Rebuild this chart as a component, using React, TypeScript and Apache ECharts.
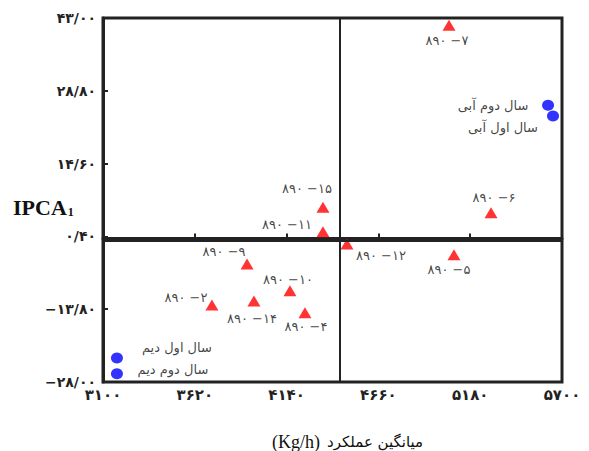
import React, { useEffect, useRef } from "react";
import * as echarts from "echarts";

// ---- data ----
const redNames = ["7", "6", "15", "11", "12", "5", "9", "10", "2", "14", "4"];
const redX = [5060, 5298, 4346, 4346, 4482, 5088, 3916, 4159, 3717, 3955, 4244];
const redY = [41.6, 5.0, 6.1, 1.3, -1.1, -3.2, -5.0, -10.2, -13.0, -12.2, -14.5];

const blueNames = ["سال دوم آبی", "سال اول آبی", "سال اول دیم", "سال دوم دیم"];
const blueX = [5621, 5649, 3179, 3179];
const blueY = [26.0, 23.9, -23.3, -26.4];

const meanX = 4440;
const meanY = -0.4;

const xTickLabels = ["۳۱۰۰", "۳۶۲۰", "۴۱۴۰", "۴۶۶۰", "۵۱۸۰", "۵۷۰۰"];
const yTickLabels = ["−۲۸/۰۰", "−۱۳/۸۰", "۰/۴۰", "۱۴/۶۰", "۲۸/۸۰", "۴۳/۰۰"];

const xUnit = "Kg/h";
const xTitle = "میانگین عملکرد";

// label placement (offset of label centre from symbol centre, px)
const redOffsets: Record<string, [number, number]> = {
  "7": [-2, 15],
  "6": [3, -15],
  "15": [-16, -19],
  "11": [-36, -7],
  "12": [34, 11],
  "5": [-5, 15],
  "9": [-23, -13],
  "10": [-2, -11],
  "2": [-26, -8],
  "14": [-2, 18],
  "4": [1, 14],
};
const blueOffsets: [number, number][] = [
  [-55, 0],
  [-50, 12],
  [60, -10],
  [56, -4],
];

const faDigits = "۰۱۲۳۴۵۶۷۸۹";
const toFa = (s: string) => s.replace(/[0-9]/g, (d) => faDigits[Number(d)]);

const labelFont = "'DejaVu Sans', sans-serif";

export default function App() {
  const ref = useRef<HTMLDivElement>(null);
  useEffect(() => {
    document.body.style.margin = "0";
    if (!ref.current) return;
    const chart = echarts.init(ref.current, undefined, { renderer: "svg" });

    const redData = redNames.map((n, i) => ({
      value: [redX[i], redY[i]],
      label: {
        show: true,
        position: "inside",
        offset: redOffsets[n],
        formatter: toFa("890 −" + n),
      },
    }));
    const blueData = blueNames.map((n, i) => ({
      value: [blueX[i], blueY[i]],
      label: {
        show: true,
        position: "inside",
        offset: blueOffsets[i],
        formatter: n,
      },
    }));

    chart.setOption({
      animation: false,
      backgroundColor: "#ffffff",
      grid: {
        left: 103,
        top: 18,
        right: 27,
        bottom: 69,
        show: true,
        borderColor: "#222",
        borderWidth: 3,
      },
      xAxis: {
        type: "value",
        min: 3100,
        max: 5700,
        interval: 520,
        axisLine: { show: true, lineStyle: { color: "#222", width: 3 } },
        axisTick: { show: true, inside: true, length: 5, lineStyle: { color: "#222", width: 2 } },
        splitLine: { show: false },
        axisLabel: {
          margin: 5,
          color: "#222",
          fontSize: 15,
          fontWeight: "bold",
          fontFamily: labelFont,
          formatter: (v: number) => xTickLabels[Math.round((v - 3100) / 520)] ?? "",
        },
      },
      yAxis: {
        type: "value",
        min: -28,
        max: 43,
        interval: 14.2,
        axisLine: { show: true, lineStyle: { color: "#222", width: 3 } },
        axisTick: { show: true, inside: true, length: 5, lineStyle: { color: "#222", width: 2 } },
        splitLine: { show: false },
        axisLabel: {
          margin: 7,
          color: "#222",
          fontSize: 14,
          fontWeight: "bold",
          fontFamily: labelFont,
          formatter: (v: number) => yTickLabels[Math.round((v + 28) / 14.2)] ?? "",
        },
      },
      series: [
        {
          type: "scatter",
          symbol: "triangle",
          symbolSize: [13, 11],
          itemStyle: { color: "#ff0000" },
          label: { color: "#111", fontSize: 13, fontFamily: labelFont },
          data: redData,
          z: 3,
          markLine: {
            silent: true,
            symbol: ["none", "none"],
            label: { show: false },
            lineStyle: { color: "#222", width: 2, type: "solid" },
            data: [{ xAxis: meanX }, { yAxis: meanY }],
          },
        },
        {
          type: "scatter",
          symbol: "circle",
          symbolSize: [12, 11],
          itemStyle: { color: "#0000ff" },
          label: { color: "#111", fontSize: 13, fontFamily: labelFont },
          data: blueData,
          z: 3,
        },
      ],
      graphic: [
        {
          type: "text",
          left: 13,
          top: 196,
          style: {
            text: "{a|IPCA}{b|1}",
            rich: {
              a: {
                fontFamily: "'Liberation Serif', serif",
                fontWeight: "bold",
                fontSize: 22,
                fill: "#111",
              },
              b: {
                fontFamily: "'Liberation Serif', serif",
                fontWeight: "bold",
                fontSize: 12,
                fill: "#111",
                padding: [10, 0, 0, 1],
              },
            },
          },
        },
        {
          type: "text",
          left: 272,
          top: 433,
          style: {
            text: "(" + xUnit + ")",
            fontFamily: "'Liberation Serif', serif",
            fontSize: 18,
            fill: "#111",
          },
        },
        {
          type: "text",
          left: 327,
          top: 434,
          style: {
            text: xTitle,
            fontFamily: "'DejaVu Sans', sans-serif",
            fontSize: 15,
            fill: "#111",
          },
        },
      ],
    });
    return () => chart.dispose();
  }, []);
  return <div ref={ref} style={{ width: 589, height: 451 }} />;
}
